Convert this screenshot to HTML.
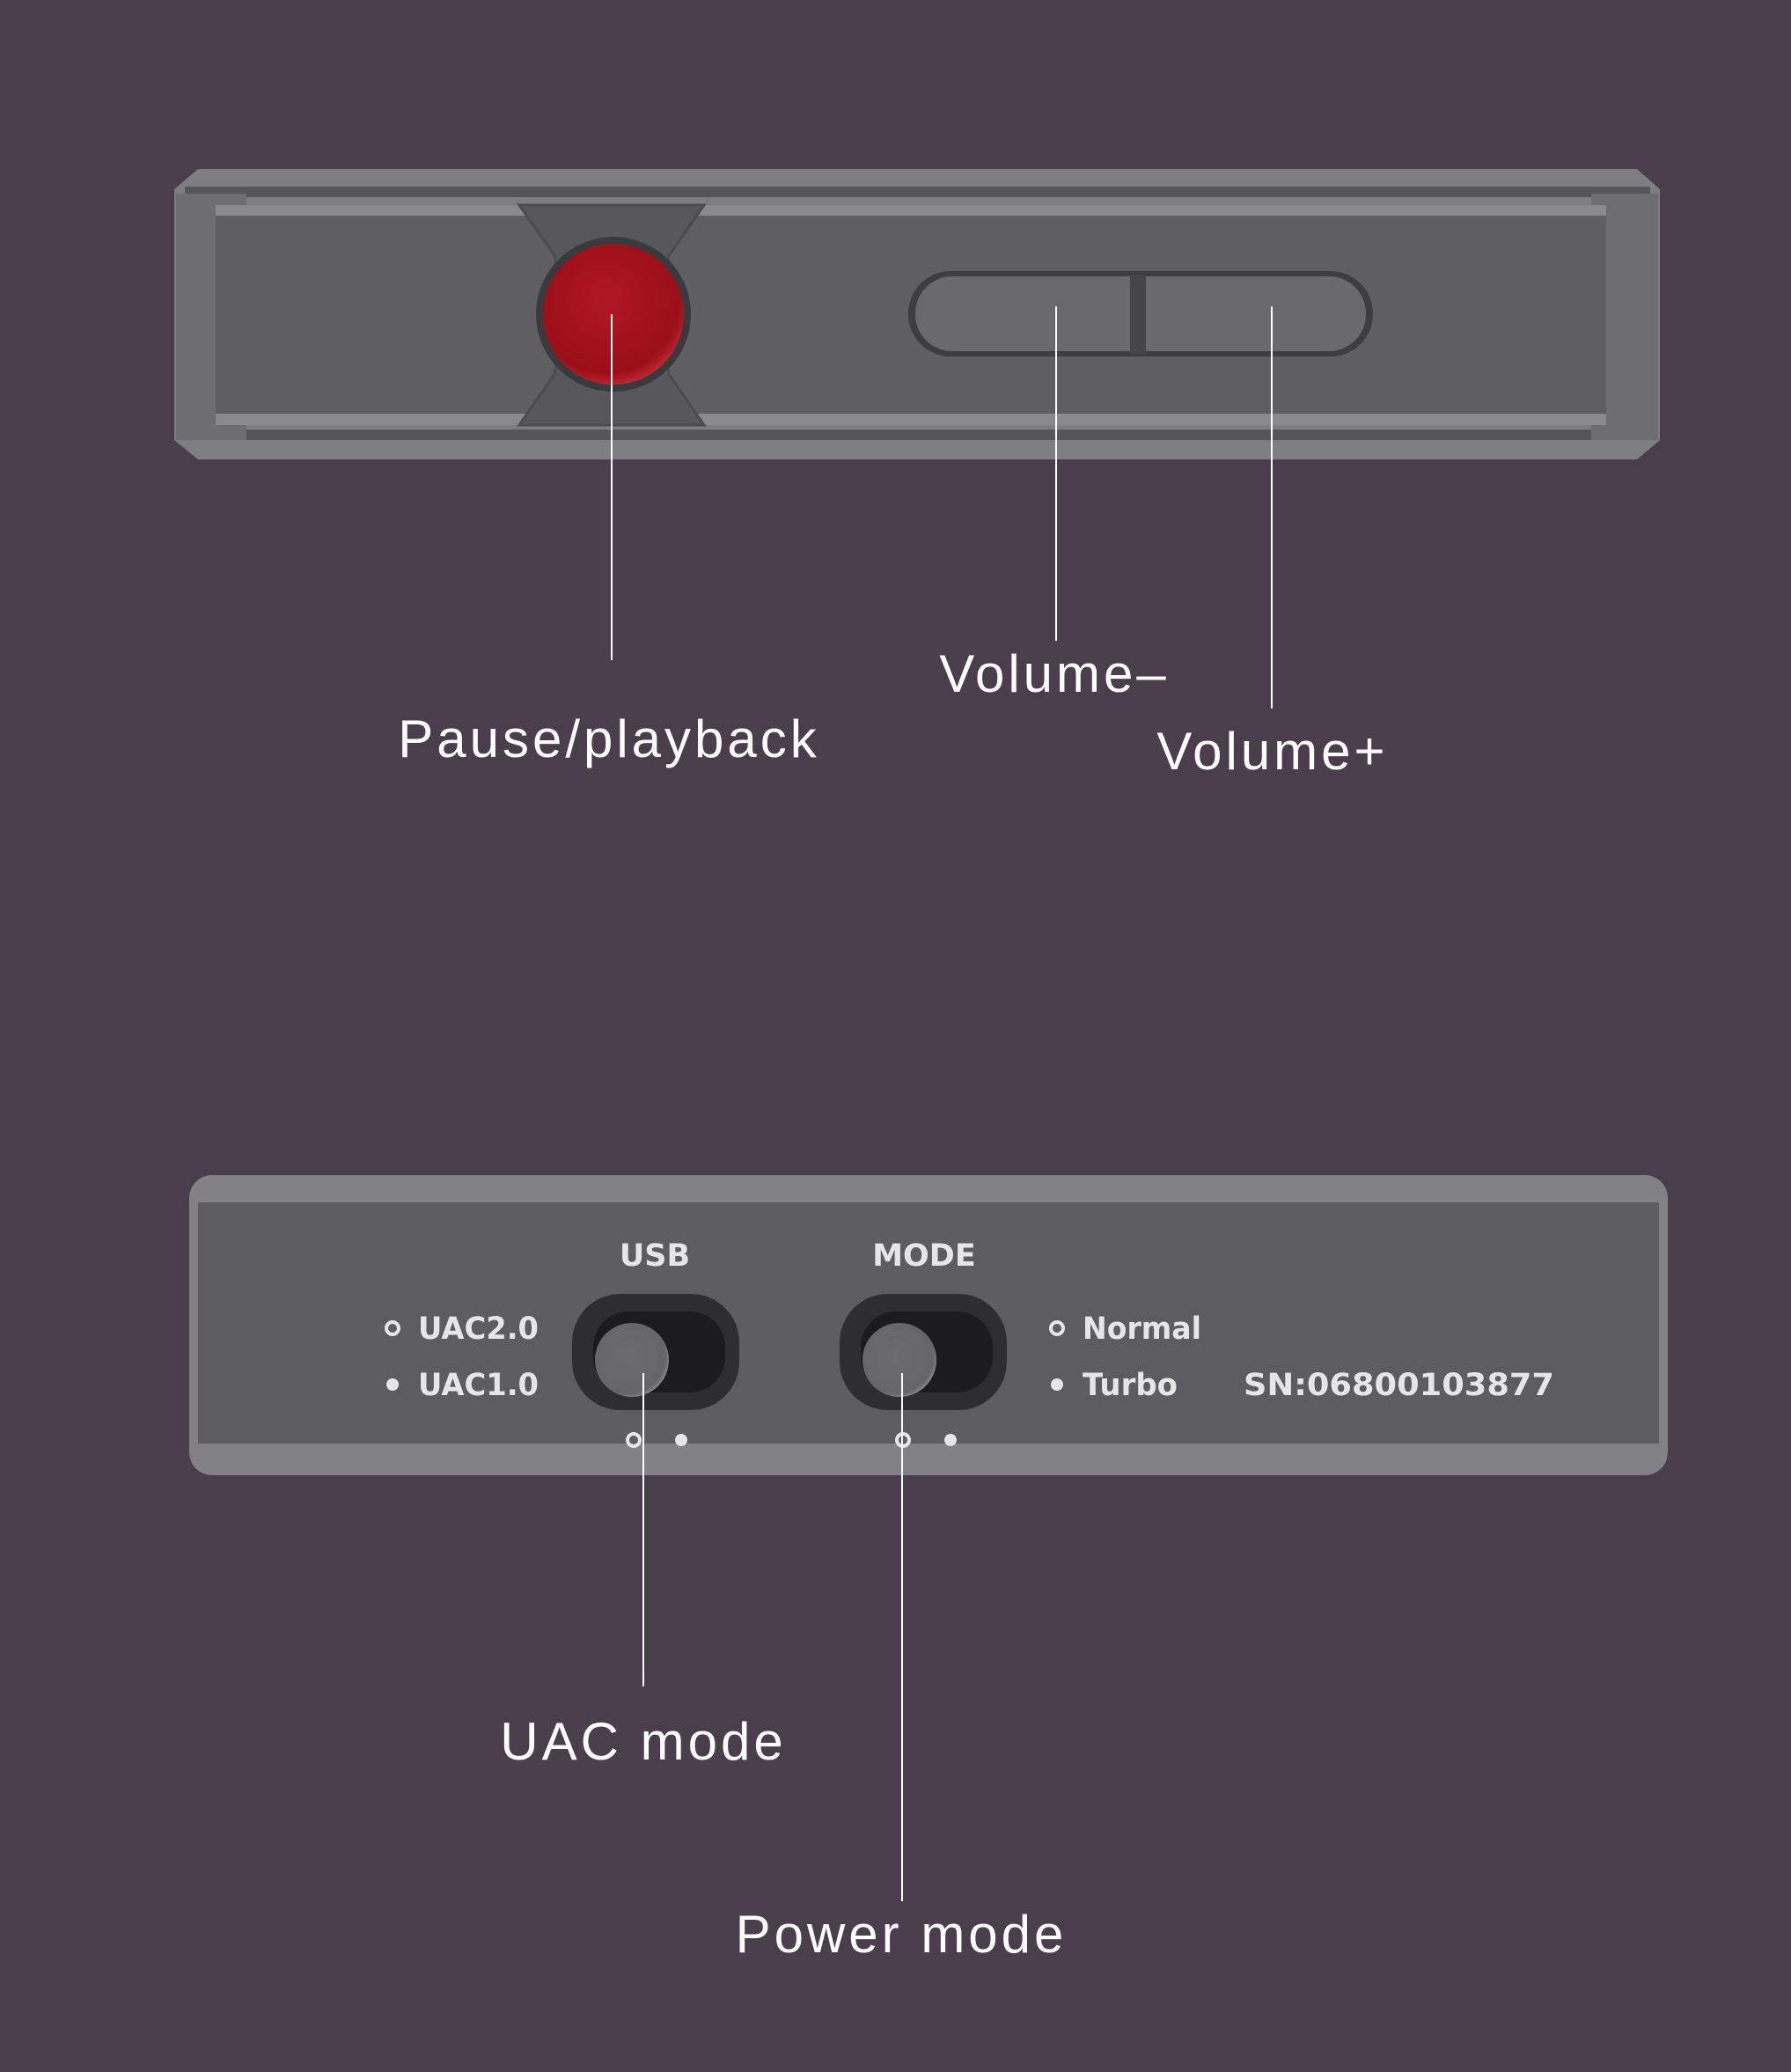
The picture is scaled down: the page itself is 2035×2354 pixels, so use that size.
<!DOCTYPE html>
<html><head><meta charset="utf-8"><style>
html,body{margin:0;padding:0;background:#4a3e4d;}
svg{display:block}
</style></head><body>
<svg width="2035" height="2354" viewBox="0 0 2035 2354" xmlns="http://www.w3.org/2000/svg">
<defs>
<radialGradient id="red" cx="0.45" cy="0.4" r="0.65">
<stop offset="0" stop-color="#b01822"/><stop offset="0.8" stop-color="#9a0f18"/><stop offset="1" stop-color="#d0303a"/>
</radialGradient>
<radialGradient id="knob" cx="0.45" cy="0.45" r="0.6">
<stop offset="0" stop-color="#6c6c70"/><stop offset="0.85" stop-color="#66666a"/><stop offset="1" stop-color="#9a9a9e"/>
</radialGradient>
</defs>
<rect width="2035" height="2354" fill="#4a3e4d"/>

<!-- TOP DEVICE -->
<path d="M225 192 H1860 L1886 215 V500 L1860 522 H225 L198 500 V215 Z" fill="#7e7e82"/>
<rect x="210" y="212" width="1665" height="12" fill="#56565a"/>
<rect x="210" y="488" width="1665" height="12" fill="#56565a"/>
<rect x="200" y="220" width="80" height="280" fill="#6e6e72"/>
<rect x="1808" y="220" width="76" height="280" fill="#6e6e72"/>
<rect x="245" y="233" width="1580" height="250" fill="#5f5f63"/>
<rect x="245" y="233" width="1580" height="12" fill="#8a8a8e"/>
<rect x="245" y="470" width="1580" height="13" fill="#8a8a8e"/>
<path d="M590 233 H800 L760 290 Q745 357 760 425 L800 483 H590 L630 425 Q645 357 630 290 Z" fill="#58585c" stroke="#4c4c50" stroke-width="3"/>
<circle cx="697" cy="357" r="88" fill="#3a3a3e"/>
<circle cx="697" cy="357" r="80" fill="url(#red)"/>
<rect x="1032" y="308" width="528" height="97" rx="48" fill="#3e3e42"/>
<rect x="1040" y="314" width="512" height="85" rx="42" fill="#6a6a6e"/>
<rect x="1284" y="312" width="18" height="90" fill="#45454a"/>
<g stroke="#ffffff" stroke-width="2">
<line x1="695" y1="357" x2="695" y2="750"/>
<line x1="1200" y1="348" x2="1200" y2="728"/>
<line x1="1445" y1="348" x2="1445" y2="805"/>
</g>
<g fill="#ffffff" font-family="Liberation Sans, sans-serif" font-size="60" text-anchor="middle" letter-spacing="4">
<text x="692" y="860">Pause/playback</text>
<text x="1198" y="786">Volume–</text>
<text x="1446" y="874">Volume+</text>
</g>

<!-- BOTTOM DEVICE -->
<rect x="215" y="1335" width="1680" height="341" rx="26" fill="#828286"/>
<rect x="225" y="1366" width="1660" height="274" fill="#5d5d61"/>
<g fill="#e6e6e6" font-family="DejaVu Sans, Liberation Sans, sans-serif" font-weight="bold" font-size="35" >
<text x="744" y="1438" text-anchor="middle">USB</text>
<text x="1050" y="1438" text-anchor="middle">MODE</text>
<text x="475" y="1521" textLength="137" lengthAdjust="spacingAndGlyphs">UAC2.0</text>
<text x="475" y="1585" textLength="137" lengthAdjust="spacingAndGlyphs">UAC1.0</text>
<text x="1230" y="1521" textLength="135" lengthAdjust="spacingAndGlyphs">Normal</text>
<text x="1230" y="1585" textLength="108" lengthAdjust="spacingAndGlyphs">Turbo</text>
<text x="1413" y="1585" textLength="353" lengthAdjust="spacingAndGlyphs">SN:06800103877</text>
</g>
<g fill="#e6e6e6">
<circle cx="446" cy="1509" r="7" fill="none" stroke="#e6e6e6" stroke-width="4"/>
<circle cx="446" cy="1573" r="7"/>
<circle cx="1201" cy="1509" r="7" fill="none" stroke="#e6e6e6" stroke-width="4"/>
<circle cx="1201" cy="1573" r="7"/>
<circle cx="720" cy="1636" r="7" fill="none" stroke="#e6e6e6" stroke-width="4"/>
<circle cx="774" cy="1636" r="7"/>
<circle cx="1026" cy="1636" r="7" fill="none" stroke="#e6e6e6" stroke-width="4"/>
<circle cx="1080" cy="1636" r="7"/>
</g>
<rect x="650" y="1470" width="190" height="132" rx="55" fill="#2e2e32"/>
<rect x="674" y="1490" width="150" height="92" rx="40" fill="#1c1c1f"/>
<circle cx="718" cy="1545" r="42" fill="url(#knob)"/>
<rect x="954" y="1470" width="190" height="132" rx="55" fill="#2e2e32"/>
<rect x="978" y="1490" width="150" height="92" rx="40" fill="#1c1c1f"/>
<circle cx="1022" cy="1545" r="42" fill="url(#knob)"/>
<g stroke="#ffffff" stroke-width="2">
<line x1="731" y1="1560" x2="731" y2="1916"/>
<line x1="1025" y1="1560" x2="1025" y2="2160"/>
</g>
<g fill="#ffffff" font-family="Liberation Sans, sans-serif" font-size="60" text-anchor="middle" letter-spacing="4">
<text x="731" y="1999">UAC mode</text>
<text x="1024" y="2218">Power mode</text>
</g>
</svg>
</body></html>
